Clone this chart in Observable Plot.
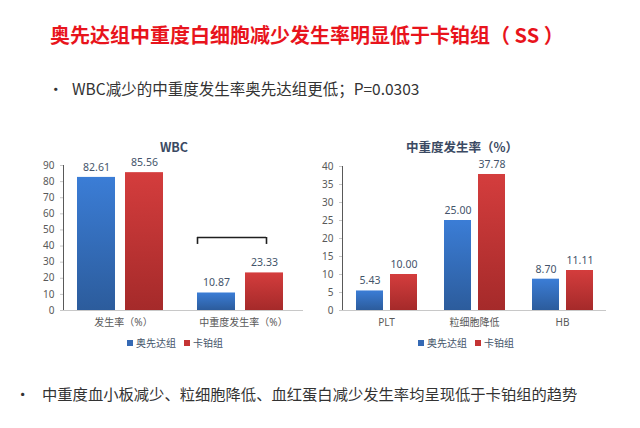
<!DOCTYPE html>
<html>
<head>
<meta charset="utf-8">
<script src="https://cdn.jsdelivr.net/npm/d3@7"></script>
<script src="https://cdn.jsdelivr.net/npm/@observablehq/plot@0.6"></script>
<style>
  html, body { margin: 0; padding: 0; background: #fff; }
  #page { position: relative; width: 640px; height: 428px; overflow: hidden; background: #fff;
          font-family: "Noto Sans CJK SC", "Noto Sans", sans-serif; }
  .abs { position: absolute; white-space: nowrap; }
  #title { left: 50px; top: 21px; font-size: 20px; font-weight: bold; color: #e8141c; line-height: 28px; }
  .bullet-line { font-size: 15.5px; color: #333; line-height: 22px; }
  .ctitle { font-size: 12.5px; font-weight: bold; color: #3b4a63; line-height: 16px; transform: translateX(-50%); }
  .legend { font-size: 10px; color: #44546a; line-height: 14px; transform: translateX(-50%); display: flex; align-items: center; }
  .legend .sw { display: inline-block; width: 6px; height: 6px; margin-right: 3px; }
  .legend .item { display: inline-flex; align-items: center; margin: 0 4px; }
  svg { position: absolute; overflow: visible; }
</style>
</head>
<body>
<div id="page">
  <div id="title" class="abs">奥先达组中重度白细胞减少发生率明显低于卡铂组（ SS ）</div>
  <div class="abs bullet-line" style="left:48px; top:77px;">•</div>
  <div class="abs bullet-line" style="left:72px; top:77px;">WBC减少的中重度发生率奥先达组更低；P=0.0303</div>
  <div class="abs bullet-line" style="left:15px; top:382px; font-size:15.3px;">•</div>
  <div class="abs bullet-line" style="left:42px; top:382px; font-size:15.3px;">中重度血小板减少、粒细胞降低、血红蛋白减少发生率均呈现低于卡铂组的趋势</div>
  <div id="leftChart"></div>
  <div id="rightChart"></div>
  <div class="abs ctitle" style="left:174px; top:139px;">WBC</div>
  <div class="abs ctitle" style="left:462px; top:139px;">中重度发生率（%）</div>
  <div class="abs legend" id="legL" style="left:175px; top:336px;"></div>
  <div class="abs legend" id="legR" style="left:466px; top:336px;"></div>
</div>
<script>
// ---- data ----
const series = ["奥先达组", "卡铂组"];
const wbcCategories = ["发生率（%）", "中重度发生率（%）"];
const wbcOxianda = [82.61, 10.87];
const wbcCarboplatin = [85.56, 23.33];
const wbcTicks = [0, 10, 20, 30, 40, 50, 60, 70, 80, 90];

const sevCategories = ["PLT", "粒细胞降低", "HB"];
const sevOxianda = [5.43, 25.00, 8.70];
const sevCarboplatin = [10.00, 37.78, 11.11];
const sevTicks = [0, 5, 10, 15, 20, 25, 30, 35, 40];

const bracketCategory = "中重度发生率（%）";
const bracketTop = 45.3;
const bracketBottom = 41;

// ---- styles ----
const gradIds = {"奥先达组": "gBlue", "卡铂组": "gRed"};
const legendColors = {"奥先达组": "#3569b4", "卡铂组": "#c43434"};
const font = "'Noto Sans', 'Noto Sans CJK SC', sans-serif";

function toRows(cats, a, b) {
  const rows = [];
  cats.forEach((c, i) => {
    rows.push({cat: c, s: series[0], v: a[i]});
    rows.push({cat: c, s: series[1], v: b[i]});
  });
  return rows;
}

function addDefs(svg) {
  const defs = d3.select(svg).insert("defs", ":first-child");
  const g1 = defs.append("linearGradient").attr("id", "gBlue").attr("x1", 0).attr("y1", 0).attr("x2", 0).attr("y2", 1);
  g1.append("stop").attr("offset", "0%").attr("stop-color", "#3b7dd6");
  g1.append("stop").attr("offset", "100%").attr("stop-color", "#2c5c9c");
  const g2 = defs.append("linearGradient").attr("id", "gRed").attr("x1", 0).attr("y1", 0).attr("x2", 0).attr("y2", 1);
  g2.append("stop").attr("offset", "0%").attr("stop-color", "#d43d3d");
  g2.append("stop").attr("offset", "100%").attr("stop-color", "#a52a2a");
}

function chart({cats, rows, ticks, ymax, width, height, mL, mR, mT, mB, padIn, padOut, align, extra}) {
  const marks = [
    Plot.ruleY([0], {stroke: "#c8c8c8", strokeWidth: 1}),
    Plot.barY(rows, {fx: "cat", x: "s", y: "v", fill: d => `url(#${gradIds[d.s]})`}),
    Plot.text(rows, {fx: "cat", x: "s", y: "v", text: d => d.v.toFixed(2), dy: -10,
                     fill: "#44546a", fontSize: 10.5}),
    ...(extra || [])
  ];
  const svg = Plot.plot({
    width, height,
    marginLeft: mL, marginRight: mR, marginTop: mT, marginBottom: mB,
    style: {fontFamily: font, fontSize: "10px", color: "#595959", background: "transparent", overflow: "visible"},
    fx: {domain: cats, padding: 0, axis: "bottom", label: null, tickSize: 0, tickPadding: 8},
    x: {domain: series, axis: null, paddingInner: padIn, paddingOuter: padOut, align: align},
    y: {domain: [0, ymax], ticks: ticks, label: null, tickSize: 3, tickPadding: 6, line: true},
    marks
  });
  addDefs(svg);
  d3.select(svg).selectAll("[aria-label='y-axis tick'] path, [aria-label='y-axis tick']").attr("stroke", "#c8c8c8");
  d3.select(svg).selectAll("[aria-label='y-axis line'] line, [aria-label='y-axis line']").attr("stroke", "#c8c8c8");
  return svg;
}

const bracketPoint = [{cat: bracketCategory, s: series[0]}];
const bracketRight = [{cat: bracketCategory, s: series[1]}];
const bracketMarks = [
  Plot.tickY(bracketPoint, {fx: "cat", x: "s", y: () => bracketTop, stroke: "#1f1f1f", strokeWidth: 1.6, insetRight: -31}),
  Plot.ruleX(bracketPoint, {fx: "cat", x: "s", y1: () => bracketBottom, y2: () => bracketTop, dx: -19, stroke: "#1f1f1f", strokeWidth: 1.6}),
  Plot.ruleX(bracketRight, {fx: "cat", x: "s", y1: () => bracketBottom, y2: () => bracketTop, dx: 2, stroke: "#1f1f1f", strokeWidth: 1.6})
];

const left = chart({
  cats: wbcCategories, rows: toRows(wbcCategories, wbcOxianda, wbcCarboplatin),
  ticks: wbcTicks, ymax: 90, width: 310, height: 200,
  mL: 63, mR: 7, mT: 35, mB: 20, padIn: 0.208, padOut: 0.35, align: 0.42, extra: bracketMarks
});
left.style.left = "0px"; left.style.top = "130px";
document.getElementById("leftChart").appendChild(left);

const right = chart({
  cats: sevCategories, rows: toRows(sevCategories, sevOxianda, sevCarboplatin),
  ticks: sevTicks, ymax: 40, width: 310, height: 200,
  mL: 41, mR: 3, mT: 36, mB: 20, padIn: 0.206, padOut: 0.39, align: 0.5
});
right.style.left = "300px"; right.style.top = "130px";
document.getElementById("rightChart").appendChild(right);

function legend(el) {
  const sel = d3.select(el);
  series.forEach(s => {
    const it = sel.append("span").attr("class", "item");
    it.append("span").attr("class", "sw").style("background", legendColors[s]);
    it.append("span").text(s);
  });
}
legend(document.getElementById("legL"));
legend(document.getElementById("legR"));
</script>
</body>
</html>
